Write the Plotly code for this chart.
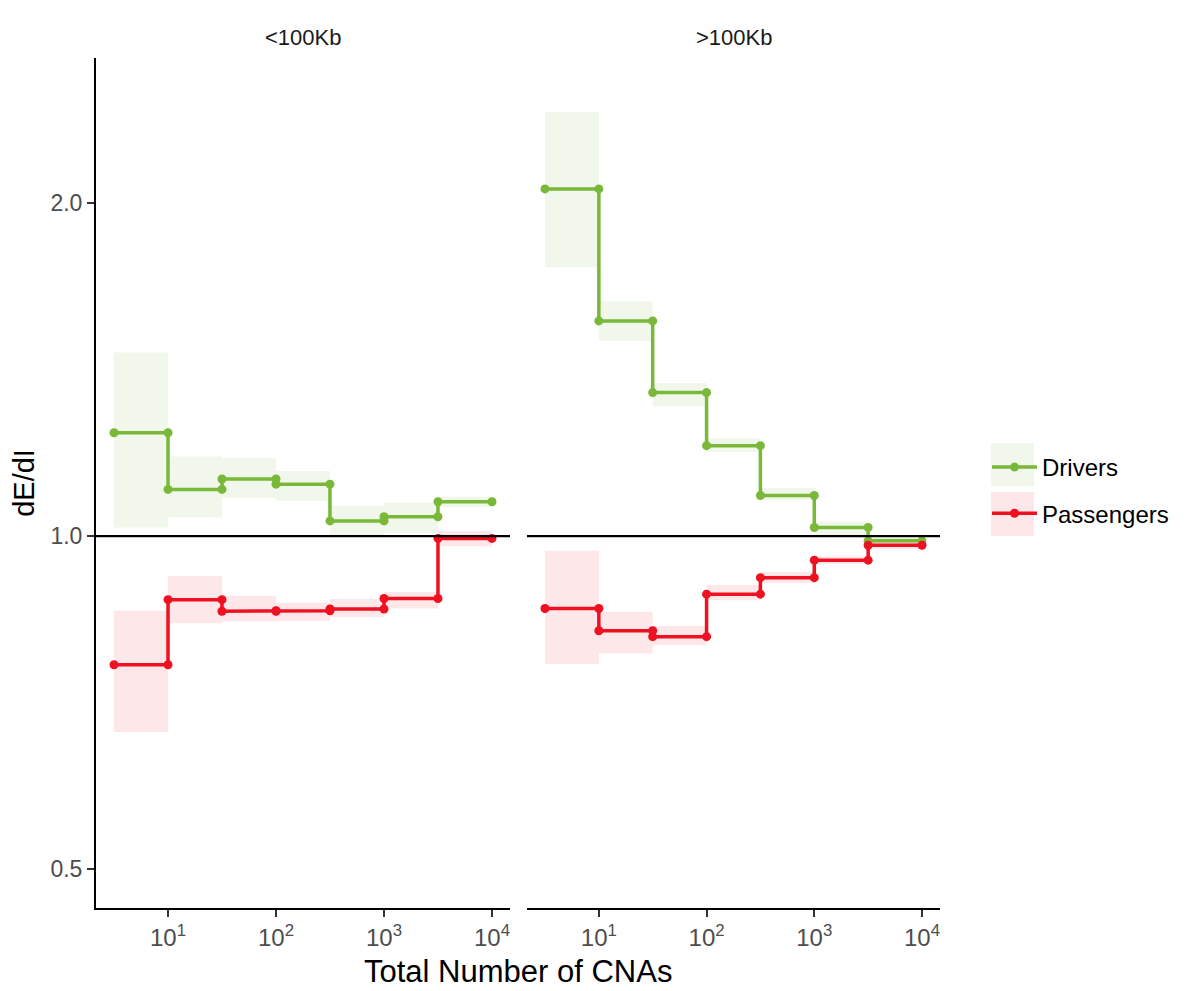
import plotly.graph_objects as go

# ---------------- data ----------------
panels = ["<100Kb", ">100Kb"]
bin_edges = [3.16, 10, 31.6, 100, 316, 1000, 3162, 10000]

drivers_small = [1.240, 1.102, 1.126, 1.114, 1.032, 1.041, 1.074]
drivers_small_lo = [1.018, 1.040, 1.082, 1.076, 0.998, 1.006, 1.062]
drivers_small_hi = [1.465, 1.180, 1.176, 1.145, 1.065, 1.072, 1.085]

passengers_small = [0.765, 0.876, 0.855, 0.856, 0.859, 0.878, 0.995]
passengers_small_lo = [0.665, 0.834, 0.837, 0.838, 0.845, 0.860, 0.979]
passengers_small_hi = [0.856, 0.920, 0.883, 0.871, 0.877, 0.890, 1.010]

drivers_large = [2.060, 1.565, 1.348, 1.207, 1.088, 1.018, 0.990]
drivers_large_lo = [1.750, 1.501, 1.311, 1.191, 1.078, 1.002, 0.981]
drivers_large_hi = [2.417, 1.630, 1.375, 1.226, 1.105, 1.030, 0.996]

passengers_large = [0.860, 0.821, 0.811, 0.886, 0.917, 0.951, 0.981]
passengers_large_lo = [0.766, 0.783, 0.797, 0.875, 0.907, 0.943, 0.973]
passengers_large_hi = [0.970, 0.854, 0.829, 0.903, 0.928, 0.959, 0.990]

y_ticks = [0.5, 1.0, 2.0]
y_ticktext = ["0.5", "1.0", "2.0"]
x_ticks = [10, 100, 1000, 10000]
x_ticktext = ["10<sup>1</sup>", "10<sup>2</sup>", "10<sup>3</sup>", "10<sup>4</sup>"]

GREEN = "#7AB83A"
RED = "#EE1122"
GREEN_FILL = "rgba(122,184,58,0.10)"
RED_FILL = "rgba(238,17,34,0.10)"
FONT = "Liberation Sans, Arial, sans-serif"

series = {
    "Drivers": (GREEN, GREEN_FILL,
                [(drivers_small, drivers_small_lo, drivers_small_hi),
                 (drivers_large, drivers_large_lo, drivers_large_hi)]),
    "Passengers": (RED, RED_FILL,
                   [(passengers_small, passengers_small_lo, passengers_small_hi),
                    (passengers_large, passengers_large_lo, passengers_large_hi)]),
}


def ribbon_xy(lo, hi):
    xs, ys = [], []
    for i in range(len(lo)):
        a, b = bin_edges[i], bin_edges[i + 1]
        xs += [a, b, b, a, a, None]
        ys += [lo[i], lo[i], hi[i], hi[i], lo[i], None]
    return xs, ys


def step_xy(vals):
    xs, ys = [], []
    for i, v in enumerate(vals):
        xs += [bin_edges[i], bin_edges[i + 1]]
        ys += [v, v]
    return xs, ys


fig = go.Figure()

# ribbons first
for name, (col, fillcol, data) in series.items():
    for p, (vals, lo, hi) in enumerate(data):
        xs, ys = ribbon_xy(lo, hi)
        fig.add_trace(go.Scatter(
            x=xs, y=ys, mode="none", fill="toself", fillcolor=fillcol,
            xaxis="x" if p == 0 else "x2", yaxis="y",
            showlegend=False, hoverinfo="skip", legendgroup=name))

# step lines
for name, (col, fillcol, data) in series.items():
    for p, (vals, lo, hi) in enumerate(data):
        xs, ys = step_xy(vals)
        fig.add_trace(go.Scatter(
            x=xs, y=ys, mode="lines+markers", name=name,
            line=dict(color=col, width=3.5),
            marker=dict(color=col, size=9),
            xaxis="x" if p == 0 else "x2", yaxis="y",
            showlegend=(p == 0), legendgroup=name))

# page offset of the plot div (body margin)
OFF = 8
W, H = 1200 - OFF, 991 - OFF
ml = 96 - OFF
mt = 58 - OFF
mb = H - (908 - OFF)
mr = W - (940 - OFF)
pw, ph = W - ml - mr, H - mt - mb


def px_x(x):
    return (x - OFF - ml) / pw


def px_y(y):
    return (H - mb - (y - OFF)) / ph


def cont_x(x):
    return (x - OFF) / W


def cont_y(y):
    return (H - (y - OFF)) / H


xaxis_common = dict(
    type="log", range=[0.333, 4.167], showgrid=False, zeroline=False,
    showline=True, linecolor="black", linewidth=2,
    ticks="outside", ticklen=7, tickwidth=2, tickcolor="#333333",
    tickvals=x_ticks, ticktext=x_ticktext,
    tickfont=dict(family=FONT, size=24, color="#4D4D4D"),
    anchor="y", fixedrange=True,
)

fig.update_layout(
    width=W, height=H,
    margin=dict(l=ml, r=mr, t=mt, b=mb, autoexpand=False),
    paper_bgcolor="white", plot_bgcolor="white",
    font=dict(family=FONT, color="black"),
    xaxis=dict(domain=[0, px_x(510)], **xaxis_common),
    xaxis2=dict(domain=[px_x(527), 1], **xaxis_common),
    yaxis=dict(
        type="log", range=[-0.3363, 0.4322], domain=[0, 1],
        showgrid=False, zeroline=False, showline=True, linecolor="black", linewidth=2,
        ticks="outside", ticklen=7, tickwidth=2, tickcolor="#333333",
        tickvals=y_ticks, ticktext=y_ticktext,
        tickfont=dict(family=FONT, size=23, color="#4D4D4D"),
        title=dict(text="dE/dI", font=dict(family=FONT, size=29, color="black"), standoff=12),
        anchor="x",
    ),
    legend=dict(
        xref="container", yref="container",
        x=cont_x(987), y=cont_y(445), xanchor="left", yanchor="top",
        bgcolor="rgba(0,0,0,0)", font=dict(family=FONT, size=24, color="black"),
        tracegroupgap=12, traceorder="grouped", itemwidth=45,
    ),
    showlegend=True,
)

# reference line at 1
for xr in ["x domain", "x2 domain"]:
    fig.add_shape(type="line", xref=xr, yref="y", x0=0, x1=1, y0=1, y1=1,
                  line=dict(color="black", width=2.2), layer="above")

# legend key backgrounds
fig.add_shape(type="rect", xref="paper", yref="paper",
              x0=px_x(991), x1=px_x(1034), y0=px_y(486), y1=px_y(443),
              fillcolor=GREEN_FILL, line=dict(width=0), layer="below")
fig.add_shape(type="rect", xref="paper", yref="paper",
              x0=px_x(991), x1=px_x(1034), y0=px_y(536), y1=px_y(492),
              fillcolor=RED_FILL, line=dict(width=0), layer="below")

# facet strip titles
for i, t in enumerate(panels):
    cx = (96 + 510) / 2 if i == 0 else (527 + 940) / 2
    fig.add_annotation(text=t, x=px_x(cx), y=px_y(37), xref="paper", yref="paper",
                       showarrow=False, xanchor="center", yanchor="middle",
                       font=dict(family=FONT, size=22, color="#1A1A1A"))

# shared x-axis title
fig.add_annotation(text="Total Number of CNAs", x=0.5, y=px_y(972), xref="paper", yref="paper",
                   showarrow=False, xanchor="center", yanchor="middle",
                   font=dict(family=FONT, size=31, color="black"))

fig.write_html("out.html")
